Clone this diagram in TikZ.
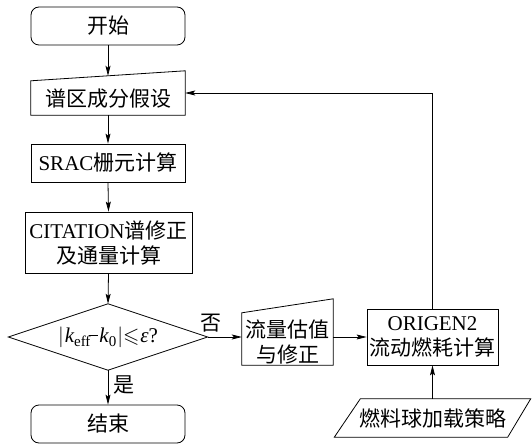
\documentclass[tikz,border=0pt]{standalone}
\usepackage{amssymb}
\usepackage{fontspec}
\setmainfont{Liberation Serif}
\newfontfamily\cjk{Noto Sans CJK SC}
\usetikzlibrary{arrows.meta}
\begin{document}
\begin{tikzpicture}[x=1pt,y=-1pt,
  every node/.style={font=\fontsize{21}{25}\selectfont, inner sep=0pt, align=center},
  box/.style={draw, line width=0.8pt, minimum width=154pt, minimum height=38pt},
  term/.style={box, rounded corners=8pt},
  ghost/.style={draw=none},
  arr/.style={-{Stealth[length=10pt,width=5pt,inset=2pt]}, line width=0.8pt},
  outline/.style={draw, line width=0.8pt}]
\useasboundingbox (0,0) rectangle (532,446);

\node[term] (start) at (108,26) {\cjk 开始};
\node[ghost, minimum width=154pt, minimum height=34pt] (assume) at (108,98) {};
\node at (108,99) (assumetxt) {\cjk 谱区成分假设};
\draw[outline] (assume.south west) -- (assume.north west) -- ([yshift=10pt]assume.north east) -- (assume.south east) -- cycle;
\node[box] (srac) at (108,163) {SRAC{\cjk 栅元计算}};
\node[box, minimum width=167pt, minimum height=61pt] (cit) at (108.5,242.5) {CITATION{\cjk 谱修正}\\{\cjk 及通量计算}};
\node[ghost, minimum width=199pt, minimum height=66pt] (dec) at (108,337) {$\bigl|$\kern1pt{\itshape k}\raisebox{-4pt}{\fontsize{15}{15}\selectfont eff}\kern-1pt\rule[6pt]{9pt}{1pt}\kern1pt{\itshape k}\raisebox{-4pt}{\fontsize{15}{15}\selectfont 0}\kern1pt$\bigr|$$\leqslant$\kern1pt{\itshape ε}?};
\draw[outline] (dec.north) -- (dec.east) -- (dec.south) -- (dec.west) -- cycle;
\node[term] (end) at (108,424) {\cjk 结束};

\node[ghost, minimum width=91pt, minimum height=52pt] (flow) at (287.5,339) {};
\node (flowtxt) at (287.5,342) {\cjk 流量估值\\\cjk 与修正};
\draw[outline] (flow.south west) -- (flow.north west) -- ([yshift=14pt]flow.north east) -- (flow.south east) -- cycle;

\node[box, minimum width=131pt, minimum height=56pt] (orig) at (432.5,337) {ORIGEN2\\\cjk 流动燃耗计算};

\node[ghost, minimum width=196pt, minimum height=38pt] (fuel) at (432.5,418) {};
\node (fueltxt) at (433,418) {\cjk 燃料球加载策略};
\draw[outline] (fuel.south west) -- ([xshift=26pt]fuel.north west) -- (fuel.north east) -- ([xshift=-23pt]fuel.south east) -- cycle;

\draw[arr] (start.south) -- ([yshift=5pt]assume.north);
\draw[arr] (assume.south) -- (srac.north);
\draw[arr] (srac.south) -- (cit.north);
\draw[arr] (cit.south) -- (dec.north);
\draw[arr] (dec.south) -- (end.north);
\draw[arr] (dec.east) -- (dec.east -| flow.west);
\draw[arr] (orig.west -| flow.east) -- (orig.west);
\draw[arr] (fuel.north -| orig.south) -- (orig.south);
\draw[arr] (orig.north) |- ([yshift=5pt]assume.east);

\node (no) at (211,323) {\cjk 否};
\node (yes) at (124,385) {\cjk 是};
\end{tikzpicture}
\end{document}
